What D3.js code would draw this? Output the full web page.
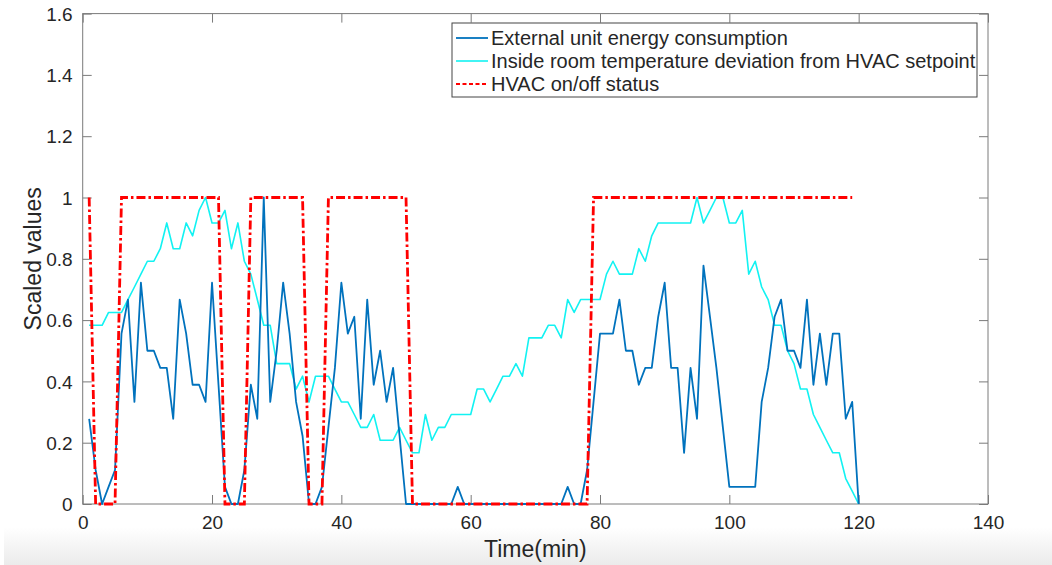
<!DOCTYPE html>
<html><head><meta charset="utf-8">
<script src="https://cdn.jsdelivr.net/npm/d3@7/dist/d3.min.js"></script>
<style>
html,body{margin:0;padding:0;background:#fff;}
svg{display:block;font-family:"Liberation Sans",Arial,Helvetica,sans-serif;}
</style></head>
<body>
<svg id="chart" width="1052" height="565"></svg>
<script>
// ---- data (time in minutes, 1..120) ----
const energy = [0.278,0.111,0,0.056,0.111,0.556,0.667,0.333,0.722,0.5,
0.5,0.444,0.444,0.278,0.667,0.556,0.389,0.389,0.333,0.722,
0.389,0.056,0,0,0.111,0.389,0.278,1.0,0.333,0.5,
0.722,0.556,0.333,0.222,0,0,0.056,0.25,0.444,0.722,
0.556,0.611,0.278,0.667,0.389,0.5,0.333,0.444,0.222,0,
0,0,0,0,0,0,0,0.056,0,0,
0,0,0,0,0,0,0,0,0,0,
0,0,0,0,0.056,0,0,0.111,0.333,0.556,
0.556,0.556,0.667,0.5,0.5,0.389,0.444,0.444,0.611,0.722,
0.444,0.444,0.167,0.444,0.278,0.778,0.611,0.444,0.25,0.056,
0.056,0.056,0.056,0.056,0.333,0.444,0.611,0.667,0.5,0.5,
0.444,0.667,0.389,0.556,0.389,0.556,0.556,0.278,0.333,0];
const tempDev = [0.583,0.583,0.583,0.625,0.625,0.625,0.667,0.708,0.75,0.792,
0.792,0.833,0.917,0.833,0.833,0.917,0.875,0.958,1.0,0.917,
0.917,0.958,0.833,0.917,0.792,0.75,0.667,0.583,0.583,0.458,
0.458,0.458,0.375,0.417,0.333,0.417,0.417,0.417,0.375,0.333,
0.333,0.292,0.25,0.25,0.292,0.208,0.208,0.208,0.25,0.208,
0.167,0.167,0.292,0.208,0.25,0.25,0.292,0.292,0.292,0.292,
0.375,0.375,0.333,0.375,0.417,0.417,0.458,0.417,0.542,0.542,
0.542,0.583,0.583,0.542,0.667,0.625,0.667,0.667,0.667,0.667,
0.75,0.792,0.75,0.75,0.75,0.833,0.792,0.875,0.917,0.917,
0.917,0.917,0.917,0.917,1.0,0.917,0.958,1.0,1.0,0.917,
0.917,0.958,0.75,0.792,0.708,0.667,0.583,0.583,0.5,0.458,
0.375,0.375,0.292,0.25,0.208,0.167,0.167,0.083,0.042,0];
const hvac = [1,0,0,0,0,1,1,1,1,1,1,1,1,1,1,1,1,1,1,1,
1,0,0,0,0,1,1,1,1,1,1,1,1,1,0,0,0,1,1,1,
1,1,1,1,1,1,1,1,1,1,0,0,0,0,0,0,0,0,0,0,
0,0,0,0,0,0,0,0,0,0,0,0,0,0,0,0,0,0,1,1,
1,1,1,1,1,1,1,1,1,1,1,1,1,1,1,1,1,1,1,1,
1,1,1,1,1,1,1,1,1,1,1,1,1,1,1,1,1,1,1];
const xTicks = [0,20,40,60,80,100,120,140];
const yTicks = [0,0.2,0.4,0.6,0.8,1,1.2,1.4,1.6];
const seriesNames = ["External unit energy consumption",
  "Inside room temperature deviation from HVAC setpoint",
  "HVAC on/off status"];
const xLabel = "Time(min)", yLabel = "Scaled values";

// ---- layout ----
const L=82.7, R=988, T=13.6, B=504;
const svg = d3.select("#chart");
const x = d3.scaleLinear().domain([0,140]).range([L,R]);
const y = d3.scaleLinear().domain([0,1.6]).range([B,T]);

// bottom grey band
const defs = svg.append("defs");
const g = defs.append("linearGradient").attr("id","band").attr("x1",0).attr("y1",0).attr("x2",0).attr("y2",1);
g.append("stop").attr("offset","0%").attr("stop-color","#ffffff");
g.append("stop").attr("offset","100%").attr("stop-color","#ebebeb");
svg.append("rect").attr("x",4).attr("y",527).attr("width",1048).attr("height",38).attr("fill","url(#band)");

const axisCol = "#7a7a7a", textCol = "#262626", tickLen = 9;

// box
svg.append("rect").attr("x",L).attr("y",T).attr("width",R-L).attr("height",B-T)
  .attr("fill","none").attr("stroke",axisCol).attr("stroke-width",1);

// ticks (inward, all four sides) via d3 axes
const axB = svg.append("g").attr("transform",`translate(0,${B})`)
  .call(d3.axisBottom(x).tickValues(xTicks).tickSize(-tickLen).tickPadding(12).tickFormat(d3.format("d")));
const axT = svg.append("g").attr("transform",`translate(0,${T})`)
  .call(d3.axisTop(x).tickValues(xTicks).tickSize(-tickLen).tickFormat(""));
const axL = svg.append("g").attr("transform",`translate(${L},0)`)
  .call(d3.axisLeft(y).tickValues(yTicks).tickSize(-tickLen).tickPadding(10).tickFormat(d=>String(+d.toFixed(1))));
const axR = svg.append("g").attr("transform",`translate(${R},0)`)
  .call(d3.axisRight(y).tickValues(yTicks).tickSize(-tickLen).tickFormat(""));
[axB,axT,axL,axR].forEach(a=>{
  a.select(".domain").remove();
  a.selectAll(".tick line").attr("stroke",axisCol);
  a.selectAll("text").attr("fill",textCol).style("font-size","19px").style("font-family","Liberation Sans, Arial, sans-serif");
});
axB.selectAll("text").attr("dy","0.71em");
axL.selectAll("text").attr("dy","0.35em");

// axis titles
svg.append("text").attr("x",(L+R)/2).attr("y",557).attr("text-anchor","middle")
  .attr("fill",textCol).style("font-size","23px").text(xLabel);
svg.append("text").attr("transform",`translate(41,${(T+B)/2}) rotate(-90)`).attr("text-anchor","middle")
  .attr("fill",textCol).style("font-size","23px").text(yLabel);

// lines
const t = i => i+1;
const mk = d3.line().x((d,i)=>x(t(i))).y(d=>y(d));
svg.append("path").datum(tempDev).attr("d",mk).attr("fill","none")
  .attr("stroke","#12f2f2").attr("stroke-width",1.6).attr("stroke-linejoin","round");
svg.append("path").datum(energy).attr("d",mk).attr("fill","none")
  .attr("stroke","#0072BD").attr("stroke-width",1.8).attr("stroke-linejoin","round");
svg.append("path").datum(hvac).attr("d",mk).attr("fill","none")
  .attr("stroke","#ff0000").attr("stroke-width",2.8).attr("stroke-dasharray","9,3,2.5,3");

// legend
const lg = svg.append("g");
lg.append("rect").attr("x",452).attr("y",23).attr("width",525).attr("height",74)
  .attr("fill","#fff").attr("stroke","#444").attr("stroke-width",1);
const lcols = ["#0072BD","#12f2f2","#ff0000"];
const lw = [1.8,1.6,1.8];
const ldash = [null,null,"4,2.5"];
seriesNames.forEach((n,i)=>{
  const yy = 38 + i*23;
  lg.append("line").attr("x1",456).attr("x2",488).attr("y1",yy).attr("y2",yy)
    .attr("stroke",lcols[i]).attr("stroke-width",lw[i]).attr("stroke-dasharray",ldash[i]);
  lg.append("text").attr("x",491).attr("y",yy).attr("dy","0.35em").attr("fill",textCol)
    .style("font-size","20px").text(n);
});
</script>
</body></html>
